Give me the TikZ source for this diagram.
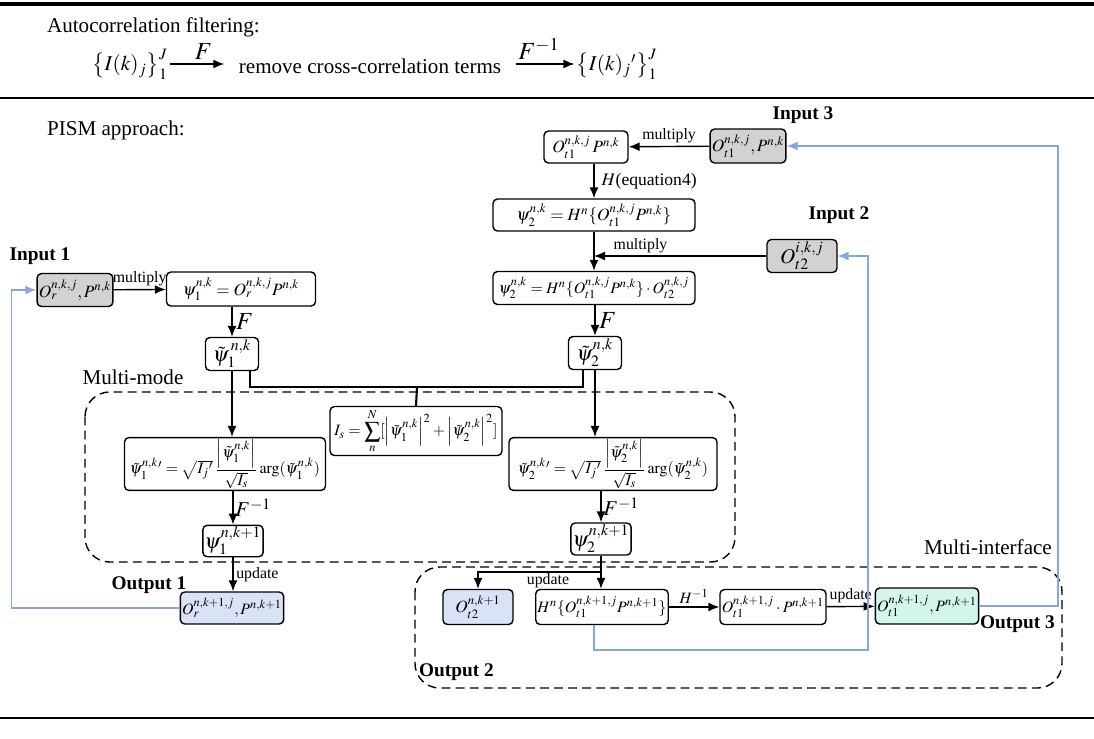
\documentclass[tikz,border=0pt,12pt]{standalone}
\usepackage{amsmath,amssymb}
\usepackage{mathptmx}
\usepackage{fontspec}
\setmainfont{Liberation Serif}
\usetikzlibrary{arrows.meta}

\definecolor{boxgray}{RGB}{210,210,210}
\definecolor{outblue}{RGB}{218,226,245}
\definecolor{outgreen}{RGB}{212,245,236}
\definecolor{loopblue}{RGB}{135,165,222}

\begin{document}
\begin{tikzpicture}[x=0.02cm,y=-0.02cm,
    box/.style={draw,rounded corners=2.5pt,line width=0.8pt,inner sep=1pt,font=\fontsize{9.8}{12}\selectfont},
    small/.style={font=\fontsize{9}{11}\selectfont},
    big/.style={font=\fontsize{12}{14}\selectfont},
    ingray/.style={box,fill=boxgray},
    outb/.style={box,fill=outblue},
    outg/.style={box,fill=outgreen},
    arr/.style={-{Latex[length=2.2mm,width=1.8mm]},line width=0.8pt},
    fb/.style={draw=loopblue,line width=0.9pt},
    fbarr/.style={fb,-{Latex[length=2.2mm,width=1.8mm]}},
    tag/.style={font=\fontsize{11}{13}\selectfont\bfseries,inner sep=1pt},
    txt/.style={font=\fontsize{12}{14}\selectfont,inner sep=1pt},
    lbl/.style={font=\fontsize{9}{11}\selectfont,inner sep=1.5pt},
    flbl/.style={font=\fontsize{14}{16}\selectfont,inner sep=2pt},
    zone/.style={dash pattern=on 5pt off 3pt,line width=0.8pt,rounded corners=14pt}]
  \useasboundingbox (0,0) rectangle (1094,738);

  \draw[line width=2.6pt] (0,4) -- (1094,4);
  \draw[line width=1.2pt] (0,98) -- (1094,98);
  \draw[line width=0.8pt] (0,718) -- (1094,718);

  \node[txt,anchor=west] (acf) at (45,27) {Autocorrelation filtering:};
  \node[txt] (ij) at (130,64) {$\left\{I(k)_j\right\}_1^J$};
  \node[txt] (rm) at (370,66) {remove cross-correlation terms};
  \node[txt] (ijp) at (617,64) {$\left\{I(k)_j{}'\right\}_1^J$};
  \draw[arr,shorten >=0.25cm] (ij.east) -- (ij.east -| rm.west) node[midway,above,flbl]{$F$};
  \draw[arr,shorten <=0.25cm] (ijp.west -| rm.east) -- (ijp.west) node[midway,above,flbl]{$F^{-1}$};

  \node[txt,anchor=west] (pism) at (45,130) {PISM approach:};

  \node[ingray,minimum width=1.40cm,minimum height=0.68cm] (in3) at (748,146) {$O_{t1}^{n,k,j},P^{n,k}$};
  \node[box,minimum width=1.68cm,minimum height=0.64cm] (op) at (586,147) {$O_{t1}^{n,k,j}\,P^{n,k}$};
  \node[box,minimum width=4.04cm,minimum height=0.64cm] (psiH) at (594,215) {$\psi_2^{n,k}=H^n\{O_{t1}^{n,k,j}P^{n,k}\}$};
  \node[ingray,big,minimum width=1.40cm,minimum height=0.66cm] (in2) at (802,256) {$O_{t2}^{i,k,j}$};
  \node[box,small,minimum width=4.04cm,minimum height=0.66cm] (psiM) at (594,288) {$\psi_2^{n,k}=H^n\{O_{t1}^{n,k,j}P^{n,k}\}\cdot O_{t2}^{n,k,j}$};
  \node[box,big,minimum width=1.06cm,minimum height=0.66cm] (tpsiB) at (595,353) {$\tilde\psi_2^{n,k}$};

  \node[ingray,minimum width=1.38cm,minimum height=0.66cm] (in1) at (75,290) {$O_r^{n,k,j},P^{n,k}$};
  \node[box,minimum width=2.98cm,minimum height=0.68cm] (psiA) at (241,289) {$\psi_1^{n,k}=O_r^{n,k,j}P^{n,k}$};
  \node[box,big,minimum width=1.06cm,minimum height=0.66cm] (tpsiA) at (232,354) {$\tilde\psi_1^{\,n,k}$};

  \node[box,small,minimum width=3.44cm,minimum height=0.98cm] (Is) at (416,431) {$I_s=\displaystyle\sum_n^N[\left|\tilde\psi_1^{n,k}\right|^2+\left|\tilde\psi_2^{n,k}\right|^2]$};
  \node[box,small,minimum width=4.02cm,minimum height=1.04cm] (tpsiAp) at (225,464) {$\tilde\psi_1^{n,k}{}'=\sqrt{I_j{}'}\,\dfrac{\left|\tilde\psi_1^{n,k}\right|}{\sqrt{I_s}}\arg(\tilde\psi_1^{n,k})$};
  \node[box,small,minimum width=4.16cm,minimum height=1.04cm] (tpsiBp) at (613,464) {$\tilde\psi_2^{n,k}{}'=\sqrt{I_j{}'}\,\dfrac{\left|\tilde\psi_2^{n,k}\right|}{\sqrt{I_s}}\arg(\tilde\psi_2^{n,k})$};
  \node[box,big,minimum width=1.06cm,minimum height=0.62cm] (psiA1) at (233,541) {$\psi_1^{n,k+1}$};
  \node[box,big,minimum width=1.08cm,minimum height=0.64cm] (psiB1) at (601,539) {$\psi_2^{n,k+1}$};

  \node[outb,small,minimum width=1.96cm,minimum height=0.64cm] (out1) at (232,608) {$O_r^{n,k+1,j},P^{n,k+1}$};
  \node[outb,minimum width=1.40cm,minimum height=0.70cm] (out2) at (478,607) {$O_{t2}^{n,k+1}$};
  \node[box,small,minimum width=2.50cm,minimum height=0.70cm] (hbox) at (602,607) {$H^n\{O_{t1}^{n,k+1,j}P^{n,k+1}\}$};
  \node[box,small,minimum width=2.12cm,minimum height=0.70cm] (obox) at (773,607) {$O_{t1}^{n,k+1,j}\cdot P^{n,k+1}$};
  \node[outg,small,minimum width=2.02cm,minimum height=0.72cm] (out3) at (927,606) {$O_{t1}^{n,k+1,j},P^{n,k+1}$};

  \draw[zone] (85,392) rectangle (735,562);
  \draw[zone] (415,567) rectangle (1062,688);

  \node[tag] (lin1) at (40,256) {Input 1};
  \node[tag] (lin2) at (839,215) {Input 2};
  \node[tag] (lin3) at (803,115) {Input 3};
  \node[tag] (lout1) at (149,585) {Output 1};
  \node[tag,anchor=west] (lout2) at (417,672) {Output 2};
  \node[tag,anchor=west] (lout3) at (978,624) {Output 3};
  \node[txt] (mm) at (133,377) {Multi-mode};
  \node[txt] (mi) at (988,547) {Multi-interface};

  \draw[arr] (in3) -- (op) node[midway,above,lbl]{multiply};
  \draw[arr] (psiH.north |- op.south) -- (psiH.north) node[midway,right,font=\fontsize{10}{12}\selectfont]{$H$(equation4)};
  \draw[arr] (psiH) -- (psiM);
  \draw[arr] (in2.west) -- (in2.west -| psiM.north) node[pos=0.73,above,lbl]{multiply};
  \draw[arr] (psiM.south -| tpsiB) -- (tpsiB.north) node[midway,right,flbl]{$F$};

  \draw[arr] (in1) -- (psiA) node[midway,above,lbl]{multiply};
  \draw[arr] (tpsiA.north |- psiA.south) -- (tpsiA.north) node[midway,right,flbl]{$F$};

  \coordinate (bus) at (417,387);
  \draw[line width=1.2pt] ([xshift=0.36cm]tpsiA.south) |- (bus) -| ([xshift=-0.24cm]tpsiB.south);
  \draw[line width=1.2pt] (bus) -- (Is.north);

  \draw[arr] (tpsiA.south) -- (tpsiA.south |- tpsiAp.north);
  \draw[arr] (tpsiB.south) -- (tpsiB.south |- tpsiBp.north);
  \draw[arr] (psiA1.north |- tpsiAp.south) -- (psiA1.north) node[midway,right,txt]{$F^{-1}$};
  \draw[arr] (psiB1.north |- tpsiBp.south) -- (psiB1.north) node[midway,right,txt]{$F^{-1}$};
  \draw[arr] (psiA1.south) -- (psiA1.south |- out1.north) node[midway,right,lbl]{update};

  \coordinate (split) at (601,572);
  \draw[line width=0.8pt] (psiB1.south) -- (split);
  \draw[arr] (split) -- (split |- hbox.north);
  \draw[arr] (split) -| (out2.north);
  \node[lbl] (upd2) at (548,581) {update};
  \draw[arr] (hbox) -- (obox) node[midway,above,lbl]{$H^{-1}$};
  \draw[arr] (obox) -- (out3) node[midway,above,lbl]{update};

  \draw[fbarr] (out1.west) -| ([xshift=-0.5cm]in1.west) -- (in1.west);
  \coordinate (r3) at (1058,146);
  \draw[fbarr] (out3.east) -| (r3) -- (in3.east);
  \coordinate (r2) at (868,650);
  \draw[fbarr] ([xshift=-0.16cm]hbox.south) |- (r2) |- (in2.east);
\end{tikzpicture}
\end{document}
